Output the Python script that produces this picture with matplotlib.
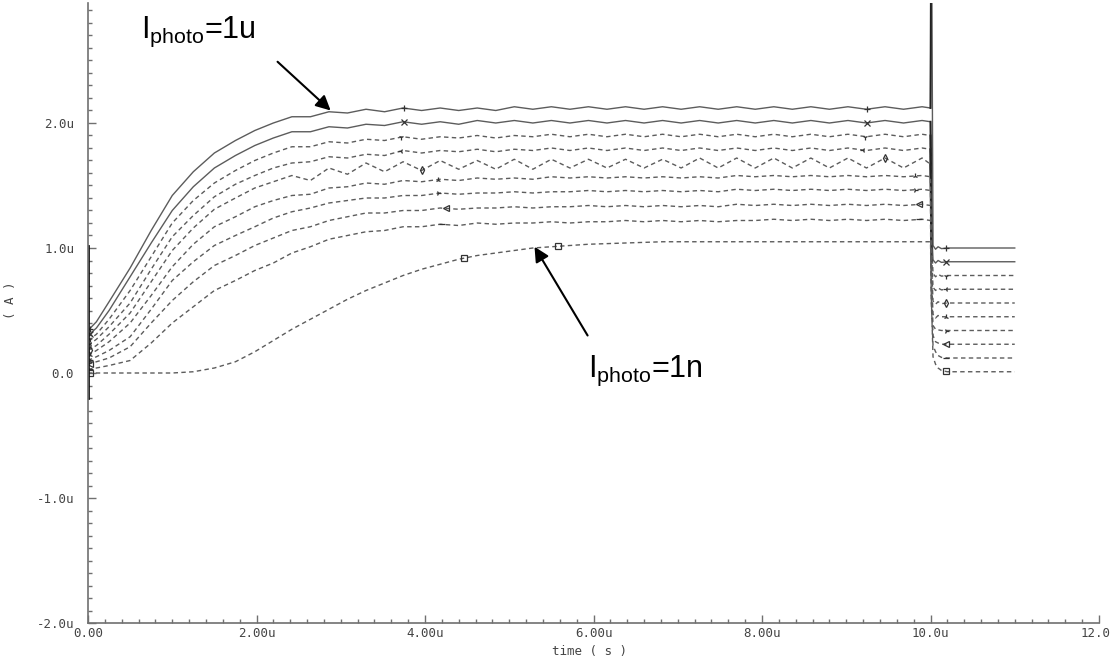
import numpy as np
import matplotlib
matplotlib.use("Agg")
import matplotlib.pyplot as plt
import matplotlib.transforms as mtransforms
from matplotlib.ticker import MultipleLocator, FixedLocator, FixedFormatter

# shared time grid, in us
t_rise = [0.0, 0.1, 0.25, 0.5, 0.75, 1.0, 1.25, 1.5, 1.75, 1.98]
t_flat = np.arange(2.2, 9.95, 0.22)          # 2.20 ... 9.90
t_grid = np.concatenate([t_rise, t_flat, [10.0]])
t_post = [10.01, 10.03, 10.06, 10.09, 10.13, 10.2, 11.0]

# output current (uA) for the 10 photo currents, 1u (top) .. 1n (bottom)
c1 = [0.34, 0.41, 0.57, 0.84, 1.14, 1.42, 1.61, 1.76, 1.86, 1.94, 2.00,
      2.05, 2.05, 2.09, 2.08, 2.11, 2.09, 2.12, 2.10, 2.12, 2.10, 2.12, 2.10, 2.13, 2.11, 2.13, 2.11, 2.13, 2.11,
      2.13, 2.11, 2.13, 2.11, 2.13, 2.11, 2.13, 2.11, 2.13, 2.11, 2.13, 2.11, 2.13, 2.11, 2.13, 2.11, 2.13, 2.12]
c2 = [0.30, 0.36, 0.50, 0.77, 1.04, 1.30, 1.49, 1.64, 1.74, 1.82, 1.88,
      1.93, 1.93, 1.97, 1.96, 1.99, 1.98, 2.01, 1.99, 2.01, 1.99, 2.02, 2.00, 2.02, 2.00, 2.02, 2.00, 2.02, 2.00,
      2.02, 2.00, 2.02, 2.00, 2.02, 2.00, 2.02, 2.00, 2.02, 2.00, 2.02, 2.00, 2.02, 2.00, 2.02, 2.00, 2.02, 2.01]
c3 = [0.26, 0.31, 0.43, 0.66, 0.93, 1.20, 1.38, 1.52, 1.62, 1.70, 1.76,
      1.81, 1.81, 1.85, 1.84, 1.87, 1.86, 1.89, 1.87, 1.89, 1.88, 1.90, 1.88, 1.90, 1.89, 1.91, 1.89, 1.91, 1.89,
      1.91, 1.89, 1.91, 1.89, 1.91, 1.89, 1.91, 1.89, 1.91, 1.89, 1.91, 1.89, 1.91, 1.89, 1.91, 1.89, 1.91, 1.90]
c4 = [0.22, 0.27, 0.37, 0.56, 0.83, 1.09, 1.26, 1.41, 1.51, 1.58, 1.64,
      1.68, 1.69, 1.73, 1.72, 1.75, 1.74, 1.78, 1.76, 1.78, 1.77, 1.79, 1.77, 1.79, 1.78, 1.80, 1.78, 1.80, 1.78,
      1.80, 1.78, 1.80, 1.78, 1.80, 1.78, 1.80, 1.78, 1.80, 1.78, 1.80, 1.78, 1.80, 1.78, 1.80, 1.78, 1.80, 1.79]
c5 = [0.18, 0.22, 0.31, 0.48, 0.73, 0.98, 1.16, 1.31, 1.40, 1.48, 1.53,
      1.58, 1.54, 1.64, 1.59, 1.68, 1.61, 1.69, 1.62, 1.70, 1.63, 1.70, 1.63, 1.71, 1.63, 1.71, 1.64, 1.71, 1.64,
      1.71, 1.64, 1.71, 1.64, 1.72, 1.64, 1.72, 1.64, 1.72, 1.64, 1.72, 1.64, 1.72, 1.64, 1.72, 1.64, 1.72, 1.67]
c6 = [0.14, 0.18, 0.25, 0.40, 0.62, 0.85, 1.03, 1.17, 1.25, 1.33, 1.38,
      1.42, 1.43, 1.48, 1.49, 1.52, 1.51, 1.54, 1.53, 1.55, 1.54, 1.56, 1.55, 1.56, 1.55, 1.57, 1.56, 1.57, 1.56,
      1.57, 1.56, 1.57, 1.56, 1.57, 1.56, 1.58, 1.57, 1.58, 1.57, 1.58, 1.57, 1.58, 1.57, 1.58, 1.57, 1.58, 1.57]
c7 = [0.10, 0.13, 0.18, 0.29, 0.51, 0.74, 0.89, 1.02, 1.10, 1.17, 1.24,
      1.29, 1.32, 1.36, 1.38, 1.40, 1.40, 1.42, 1.42, 1.44, 1.43, 1.44, 1.44, 1.45, 1.44, 1.45, 1.45, 1.46, 1.45,
      1.46, 1.45, 1.46, 1.45, 1.46, 1.45, 1.47, 1.46, 1.47, 1.46, 1.47, 1.46, 1.47, 1.46, 1.47, 1.46, 1.47, 1.46]
c8 = [0.07, 0.09, 0.12, 0.21, 0.40, 0.58, 0.73, 0.86, 0.94, 1.02, 1.08,
      1.14, 1.17, 1.22, 1.25, 1.28, 1.28, 1.30, 1.30, 1.32, 1.31, 1.32, 1.32, 1.33, 1.32, 1.33, 1.33, 1.34, 1.33,
      1.34, 1.33, 1.34, 1.33, 1.34, 1.33, 1.35, 1.34, 1.35, 1.34, 1.35, 1.34, 1.35, 1.34, 1.35, 1.34, 1.35, 1.34]
c9 = [0.03, 0.04, 0.06, 0.10, 0.24, 0.40, 0.53, 0.66, 0.74, 0.82, 0.88,
      0.96, 1.01, 1.07, 1.10, 1.13, 1.14, 1.17, 1.17, 1.19, 1.18, 1.20, 1.19, 1.20, 1.20, 1.21, 1.20, 1.21, 1.21,
      1.22, 1.21, 1.22, 1.21, 1.22, 1.21, 1.22, 1.22, 1.23, 1.22, 1.23, 1.22, 1.23, 1.22, 1.23, 1.22, 1.23, 1.22]
c10 = [0.00, 0.00, 0.00, 0.00, 0.00, 0.00, 0.01, 0.04, 0.09, 0.17, 0.26,
       0.35, 0.43, 0.51, 0.59, 0.66, 0.72, 0.78, 0.83, 0.87, 0.91, 0.94, 0.96, 0.98, 1.00, 1.01, 1.02, 1.03, 1.035,
       1.04, 1.045, 1.05, 1.05, 1.05, 1.05, 1.05, 1.05, 1.05, 1.05, 1.05, 1.05, 1.05, 1.05, 1.05, 1.05, 1.05, 1.05]

# after the 10us step
p1 = [4.00, 1.02, 0.99, 1.01, 0.995, 1.00, 1.00]
p2 = [1.20, 0.905, 0.88, 0.90, 0.885, 0.89, 0.89]
p3 = [1.10, 0.795, 0.77, 0.79, 0.775, 0.78, 0.78]
p4 = [1.00, 0.685, 0.66, 0.68, 0.665, 0.67, 0.67]
p5 = [0.90, 0.575, 0.55, 0.57, 0.555, 0.56, 0.56]
p6 = [0.80, 0.47, 0.44, 0.46, 0.45, 0.45, 0.45]
p7 = [0.70, 0.38, 0.35, 0.345, 0.34, 0.34, 0.34]
p8 = [0.60, 0.30, 0.25, 0.24, 0.23, 0.23, 0.23]
p9 = [0.55, 0.22, 0.17, 0.14, 0.125, 0.12, 0.12]
p10 = [0.60, 0.13, 0.07, 0.04, 0.02, 0.01, 0.01]

# trace along t=0 at start-up
start_trace = [1.02, -0.2]

curves = [c1, c2, c3, c4, c5, c6, c7, c8, c9, c10]
posts = [p1, p2, p3, p4, p5, p6, p7, p8, p9, p10]

marker_sym = ['+', 'x', '1', '3', 'd', '2', '4', '<', '_', 's']
marker_t = [[0.02, 3.75, 9.25, 10.18], [0.02, 3.75, 9.25, 10.18],
            [0.02, 3.71, 9.22, 10.18], [0.02, 3.71, 9.20, 10.18],
            [0.02, 3.97, 9.46, 10.18], [0.02, 4.15, 9.82, 10.18],
            [0.02, 4.15, 9.82, 10.18], [0.02, 4.25, 9.86, 10.18],
            [0.02, 4.20, 9.86, 10.18], [0.02, 4.46, 5.58, 10.18]]

x_ticks = [0, 2, 4, 6, 8, 10, 12]
x_labels = ['0.00', '2.00u', '4.00u', '6.00u', '8.00u', '10.0u', '12.0']
y_ticks = [-2, -1, 0, 1, 2]
y_labels = ['-2.0u', '-1.0u', '0.0', '1.0u', '2.0u']

plt.rcParams['mathtext.fontset'] = 'custom'
plt.rcParams['mathtext.rm'] = 'Liberation Sans'

gray = '#5c5c5c'
axcol = '#707070'
labcol = '#444444'
tickfont = 'DejaVu Sans Mono'

fig = plt.figure(figsize=(11.1, 6.59), dpi=100)
ax = fig.add_axes([88 / 1110, 36 / 659, 1011 / 1110, 620 / 659])

for i in range(10):
    t_all = np.concatenate([t_grid, t_post])
    v_all = np.concatenate([curves[i], posts[i]])
    ls = '-' if i < 2 else (0, (3.2, 2.4))
    ax.plot(t_all, v_all, color=gray, lw=1.0, ls=ls)
    # the drop at 10us of the upper traces shows up as a solid dark line
    if i < 5:
        ax.plot(t_all[-8:-6], v_all[-8:-6], color='#222222', lw=1.4)
    mt = np.array(marker_t[i])
    ax.plot(mt, np.interp(mt, t_all, v_all), ls='none', marker=marker_sym[i],
            ms=4, mew=0.9, mfc='none', color='#333333')

ax.plot([0, 0], start_trace, color='#111111', lw=2.0)

ax.set_xlim(0, 12)
ax.set_ylim(-2.0, 2.96)
for s in ['top', 'right']:
    ax.spines[s].set_visible(False)
for s in ['left', 'bottom']:
    ax.spines[s].set_color(axcol)
    ax.spines[s].set_linewidth(1.2)

ax.xaxis.set_major_locator(FixedLocator(x_ticks))
ax.xaxis.set_major_formatter(FixedFormatter(x_labels))
ax.xaxis.set_minor_locator(MultipleLocator(0.2))
ax.yaxis.set_major_locator(FixedLocator(y_ticks))
ax.yaxis.set_major_formatter(FixedFormatter(y_labels))
ax.yaxis.set_minor_locator(MultipleLocator(0.1))
ax.tick_params(which='both', direction='in', color=axcol, width=1.0)
ax.tick_params(which='major', length=6)
ax.tick_params(which='minor', length=3)
ax.tick_params(axis='x', pad=3, labelsize=9, labelcolor=labcol)
ax.tick_params(axis='y', pad=10, labelsize=9, labelcolor=labcol)
for lab in ax.get_xticklabels() + ax.get_yticklabels():
    lab.set_family(tickfont)

# keep the last x label inside the figure
last = ax.get_xticklabels()[-1]
last.set_horizontalalignment('right')
last.set_transform(last.get_transform() + mtransforms.ScaledTranslation(12 / 100, 0, fig.dpi_scale_trans))

fig.text(590 / 1110, 1 - 652 / 659, 'time ( s )', family=tickfont, fontsize=9,
         color=labcol, ha='center', va='center')
ax.set_ylabel('( A )', family=tickfont, fontsize=9, color=labcol)
ax.yaxis.set_label_coords(-0.07, 0.52)

arrow = dict(arrowstyle='-|>', color='black', lw=1.5, mutation_scale=22, shrinkA=0, shrinkB=0)
ax.annotate('', xy=(2.88, 2.10), xytext=(2.25, 2.49), arrowprops=arrow)
ax.annotate('', xy=(5.30, 1.01), xytext=(5.93, 0.30), arrowprops=arrow)

ax.text(0.63, 2.68, r'I$_\mathrm{photo}$=1u', family='Liberation Sans', fontsize=22,
        ha='left', va='baseline')
ax.text(5.93, -0.03, r'I$_\mathrm{photo}$=1n', family='Liberation Sans', fontsize=22,
        ha='left', va='baseline')

fig.savefig('out.png', dpi=100)
